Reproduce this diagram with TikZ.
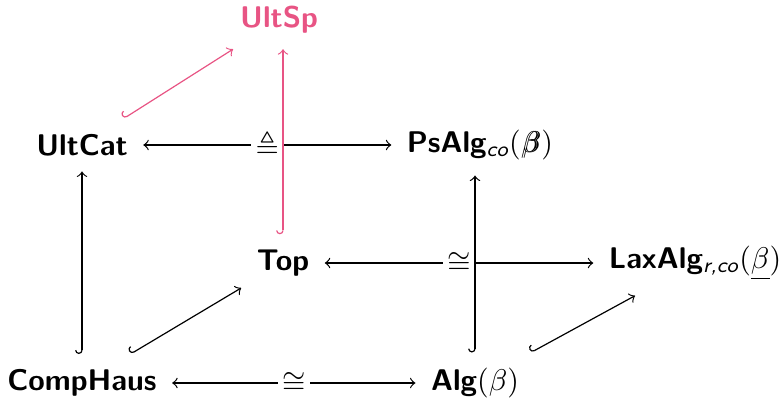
\documentclass[tikz,border=0pt]{standalone}
\usepackage{amsmath,amssymb}
\usetikzlibrary{arrows.meta}
\renewcommand{\familydefault}{\sfdefault}
\definecolor{ultpink}{RGB}{232,84,132}
\newcommand{\dblbeta}{\rlap{$\beta$}\kern0.7pt$\beta$}
\begin{document}
\begin{tikzpicture}[x=0.334pt, y=0.334pt, >=to,
    cat/.style={font=\sffamily\bfseries, inner sep=5pt},
    lbl/.style={fill=white, inner sep=1.5pt},
    emb/.style={{Hooks[right]}->}]
  \useasboundingbox (-82,-16) rectangle (700,383);
  % back and front faces of the cube
  \foreach \n/\p/\t in {comphaus/{0,0}/{CompHaus},
                        alg/{393,0}/{Alg\mdseries$(\beta)$},
                        ultcat/{0,238}/{UltCat},
                        psalg/{398,238}/{PsAlg\mdseries$_{\textit{co}}($\dblbeta$)$},
                        top/{201,120}/{Top},
                        laxalg/{613,120}/{LaxAlg\mdseries$_{\textit{r,co}}(\underline{\beta})$}}
    \node [cat] (\n) at (\p) {\t};
  \node [cat, text=ultpink] (ultsp) at (197,363) {UltSp};
  % equivalences
  \foreach \a/\b/\s in {ultcat/psalg/\triangleq, top/laxalg/\cong, comphaus/alg/\cong}
    \draw [<->] (\a) -- (\b) node [midway, lbl] {$\s$};
  % embeddings
  \draw [emb] (comphaus) -- (ultcat);
  \draw [emb] (alg.north) -- (alg.north |- psalg.south);
  \foreach \a/\b in {comphaus/top, alg/laxalg}
    \draw [emb] (\a) -- (\b);
  \draw [emb, ultpink] (ultcat) -- (ultsp);
  \draw [emb, ultpink] (top.north) -- (top.north |- ultsp.south);
\end{tikzpicture}
\end{document}
